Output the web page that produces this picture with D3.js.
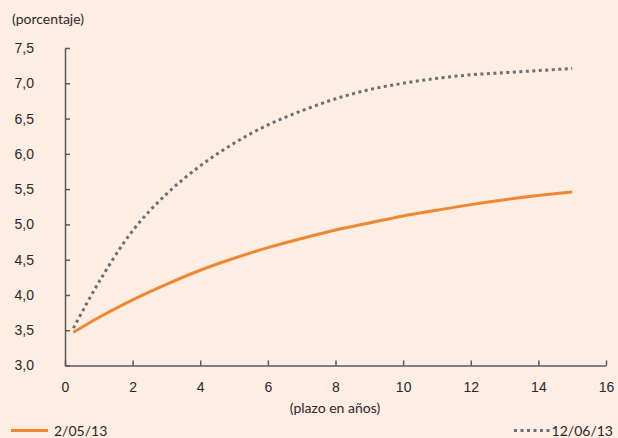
<!DOCTYPE html>
<html>
<head>
<meta charset="utf-8">
<script src="https://cdn.jsdelivr.net/npm/d3@7"></script>
<style>
  body { margin: 0; background: #fdede2; }
  svg { display: block; font-family: Lato, "Open Sans", sans-serif; }
  .axis text { font-size: 14px; fill: #2b2829; }
  .axis path, .axis line { stroke: #58595b; stroke-width: 1.5; }
</style>
</head>
<body>
<div id="chart"></div>
<script>
// plazo (years) and the two yield curves
var plazo = [0.25, 1, 2, 3, 4, 5, 6, 7, 8, 9, 10, 11, 12, 13, 14, 15];
var curva0205 = [3.47, 3.68, 3.93, 4.15, 4.35, 4.52, 4.67, 4.80, 4.92, 5.02, 5.12, 5.20, 5.28, 5.35, 5.41, 5.46];
var curva1206 = [3.53, 4.18, 4.91, 5.43, 5.83, 6.15, 6.41, 6.61, 6.78, 6.91, 7.00, 7.07, 7.12, 7.15, 7.18, 7.21];

var xTicks = [0, 2, 4, 6, 8, 10, 12, 14, 16];
var yTicks = [3.0, 3.5, 4.0, 4.5, 5.0, 5.5, 6.0, 6.5, 7.0, 7.5];

var svgWidth = 618;
var svgHeight = 438;

var svg = d3.select("#chart")
    .append("svg")
    .attr("width", svgWidth)
    .attr("height", svgHeight);

svg.append("rect")
    .attr("width", svgWidth)
    .attr("height", svgHeight)
    .attr("fill", "#fdede2");

//scales
var x = d3.scaleLinear().domain([0, 16]).range([65, 606]);
var y = d3.scaleLinear().domain([3, 7.5]).range([365.5, 48]);

var fmt = function(d) { return d3.format(".1f")(d).replace(".", ","); };

//axes, ticks pointing inwards
svg.append("g")
    .attr("class", "axis")
    .attr("transform", "translate(0," + y(3) + ")")
    .call(d3.axisBottom(x).tickValues(xTicks).tickSizeInner(-5).tickSizeOuter(0).tickPadding(17));

svg.append("g")
    .attr("class", "axis")
    .attr("transform", "translate(" + x(0) + ",0)")
    .call(d3.axisLeft(y).tickValues(yTicks).tickFormat(fmt).tickSizeInner(-5).tickSizeOuter(0).tickPadding(31));

//lines
var line = function(vals) {
    return d3.line()
        .x(function(d, i) { return x(plazo[i]); })
        .y(function(d) { return y(d); })
        .curve(d3.curveCatmullRom.alpha(0.5))(vals);
};

svg.append("path")
    .attr("d", line(curva0205))
    .attr("fill", "none")
    .attr("stroke", "#ee8731")
    .attr("stroke-width", 3);

svg.append("path")
    .attr("d", line(curva1206))
    .attr("fill", "none")
    .attr("stroke", "#6d6e71")
    .attr("stroke-width", 3)
    .attr("stroke-dasharray", "3,3.5");

//titles
svg.append("text")
    .attr("x", 12)
    .attr("y", 24)
    .attr("font-size", 14)
    .attr("fill", "#2b2829")
    .text("(porcentaje)");

svg.append("text")
    .attr("x", 335)
    .attr("y", 413)
    .attr("text-anchor", "middle")
    .attr("font-size", 14)
    .attr("fill", "#2b2829")
    .text("(plazo en años)");

//legend
svg.append("line")
    .attr("x1", 11).attr("x2", 48)
    .attr("y1", 430.5).attr("y2", 430.5)
    .attr("stroke", "#ee8731")
    .attr("stroke-width", 3);

svg.append("text")
    .attr("x", 54)
    .attr("y", 436)
    .attr("font-size", 14)
    .attr("fill", "#2b2829")
    .text("2/05/13");

svg.append("line")
    .attr("x1", 514).attr("x2", 550)
    .attr("y1", 430.5).attr("y2", 430.5)
    .attr("stroke", "#6d6e71")
    .attr("stroke-width", 3)
    .attr("stroke-dasharray", "3,3.5");

svg.append("text")
    .attr("x", 613)
    .attr("y", 436)
    .attr("text-anchor", "end")
    .attr("font-size", 14)
    .attr("fill", "#2b2829")
    .text("12/06/13");
</script>
</body>
</html>
